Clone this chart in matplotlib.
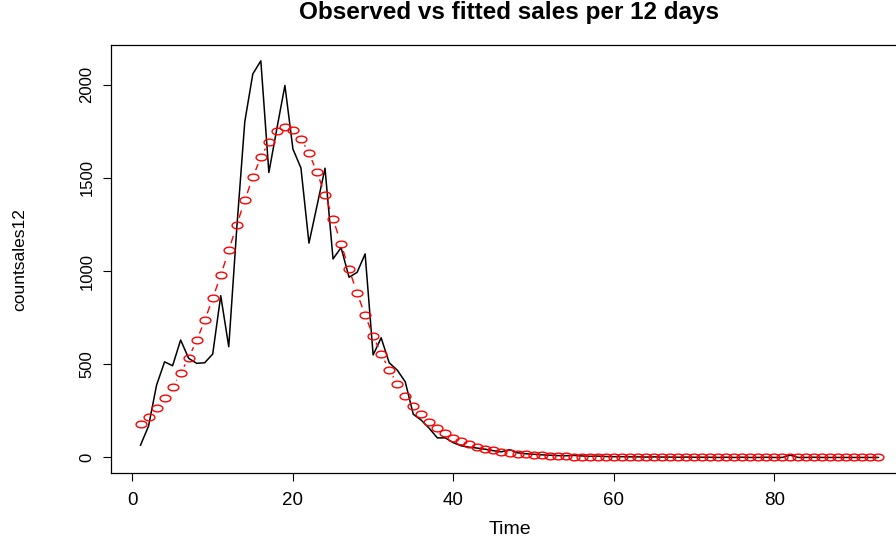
import numpy as np
import matplotlib
matplotlib.use("Agg")
import matplotlib.pyplot as plt
from matplotlib.path import Path
from matplotlib.collections import LineCollection

plt.rcParams['font.family'] = ['Liberation Sans', 'DejaVu Sans']
plt.rcParams['lines.scale_dashes'] = False

# Observed sales counts, one value per 12-day period
observed = [
    66, 168, 388, 513, 492, 630, 532, 505, 508, 555,
    868, 594, 1230, 1802, 2058, 2128, 1529, 1765, 1996, 1655,
    1553, 1150, 1350, 1552, 1065, 1126, 967, 993, 1092, 550,
    642, 508, 469, 406, 232, 200, 156, 105, 105, 79,
    62, 55, 50, 44, 36, 30, 42, 25, 20, 17,
    14, 12, 10, 9, 11, 8, 6, 7, 5, 4,
    4, 3, 3, 2, 3, 2, 2, 1, 2, 1,
    1, 1, 0, 1, 0, 1, 0, 0, 1, 0,
    0, 12, 0, 0, 1, 0, 0, 0, 0, 0,
    0, 0, 0,
]

# Fitted values from the model
fitted = [
    180, 218, 263, 317, 378, 451, 535, 628, 735, 854,
    977, 1111, 1248, 1380, 1504, 1611, 1693, 1749, 1772, 1758,
    1711, 1633, 1530, 1410, 1280, 1146, 1010, 882, 763, 653,
    555, 471, 394, 331, 276, 231, 190, 157, 129, 105,
    86, 70, 58, 47, 38, 31, 25, 21, 17, 14,
    11, 9, 7, 6, 5, 4, 3.2, 2.6, 2.1, 1.7,
    1.4, 1.1, 0.9, 0.7, 0.6, 0.5, 0.4, 0.3, 0.25, 0.2,
    0.16, 0.13, 0.1, 0.08, 0.06, 0.05, 0.04, 0.03, 0.03, 0.02,
    0.02, 0.01, 0.01, 0.01, 0.01, 0, 0, 0, 0, 0,
    0, 0, 0,
]

time = np.arange(1, len(observed) + 1)

title = "Observed vs fitted sales per 12 days"
xlabel = "Time"
ylabel = "countsales12"
xticks = [0, 20, 40, 60, 80]
yticks = [0, 500, 1000, 1500, 2000]

W, H, DPI = 896, 541, 100
fig = plt.figure(figsize=(W / DPI, H / DPI), dpi=DPI)
left, right, bottom, top = 111, 908, 473.3, 45
ax = fig.add_axes([left / W, 1 - bottom / H, (right - left) / W, (bottom - top) / H])

# R-style 4% padding around the data range
xr = time.max() - time.min()
ax.set_xlim(time.min() - 0.04 * xr, time.max() + 0.04 * xr)
ymax = max(max(observed), max(fitted))
ax.set_ylim(-0.04 * ymax, ymax * 1.04)

ax.plot(time, observed, color='black', lw=1.1, zorder=2)

# Dashed connectors that stop short of each point marker
gap = 7.5
trans = ax.transData
pts = trans.transform(np.column_stack([time, fitted]))
segs = []
for p0, p1 in zip(pts[:-1], pts[1:]):
    d = p1 - p0
    L = np.hypot(*d)
    if L > 2 * gap:
        a = p0 + d * gap / L
        b = p1 - d * gap / L
        segs.append(trans.inverted().transform(np.array([a, b])))
lc = LineCollection(segs, colors='red', linewidths=1.0,
                    linestyles=[(0, (5.5, 3.6))], zorder=3)
ax.add_collection(lc)

circ = Path.unit_circle()
ellipse = Path(circ.vertices * np.array([1.0, 0.62]), circ.codes)
ax.plot(time, fitted, linestyle='none', marker=ellipse, markersize=7.8,
        markerfacecolor='none', markeredgecolor='red', markeredgewidth=1.0,
        zorder=4)

for s in ax.spines.values():
    s.set_linewidth(0.9)
    s.set_color('black')

ax.set_xticks(xticks)
ax.set_yticks(yticks)
ax.tick_params(axis='both', direction='out', length=5.8, width=0.8)
ax.tick_params(axis='x', pad=8, labelsize=13.5)
ax.tick_params(axis='y', pad=6, labelsize=12)
for lab in ax.get_yticklabels():
    lab.set_rotation(90)
    lab.set_va('center')

ax.set_xlabel(xlabel, fontsize=14, va='center')
ax.xaxis.set_label_coords(0.5, (bottom - 530) / (bottom - top))
ax.set_ylabel(ylabel, fontsize=12.5, va='center')
ax.yaxis.set_label_coords((20 - left) / (right - left), 0.5)

fig.text(509 / W, 1 - 13 / H, title, ha='center', va='center',
         fontsize=17.5, fontweight='bold')

fig.savefig("out.png", dpi=DPI)
